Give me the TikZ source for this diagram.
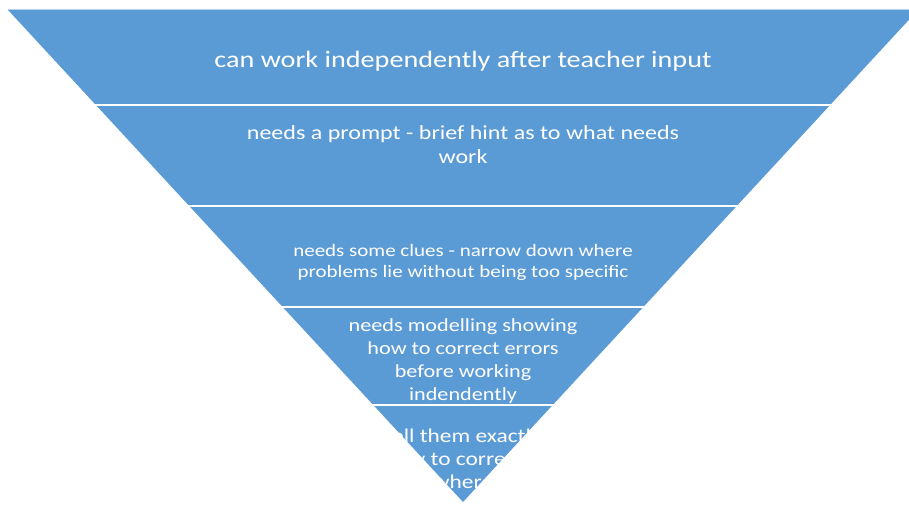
\documentclass[tikz,border=0pt]{standalone}
\usepackage{fontspec}
\setmainfont{Carlito}[FakeStretch=1.2]
\definecolor{pyblue}{HTML}{5B9BD5}
\begin{document}
\begin{tikzpicture}[x=1pt,y=-1pt,
  bandtext/.style={text=white,align=center,inner sep=0pt},
  divider/.style={white,line width=2.4pt}]
\useasboundingbox (0,0) rectangle (909,504);
% triangle
\coordinate (tl) at (8,10);
\coordinate (tr) at (918,10);
\coordinate (ap) at (463,502);
\fill[pyblue] (tl) -- (tr) -- (ap) -- cycle;
\draw[pyblue!45,line width=0.8pt] (8,9) -- (909,9);
% dividers
\foreach \yy in {105,206,307,405}{
  \draw[divider] (0,\yy) -- (909,\yy);
}
\begin{scope}
\clip (tl) -- (tr) -- (ap) -- cycle;
\node[bandtext,font=\fontsize{23.5}{28}\selectfont] (t1) at (463,61) {can work independently after teacher input};
\node[bandtext,font=\fontsize{20}{24}\selectfont] (t2) at (463,145) {needs a prompt - brief hint as to what needs\\work};
\node[bandtext,font=\fontsize{17.5}{21}\selectfont] (t3) at (463,262) {needs some clues - narrow down where\\problems lie without being too specific};
\node[bandtext,font=\fontsize{18.5}{23}\selectfont] (t4) at (463,361) {needs modelling showing\\how to correct errors\\before working\\indendently};
\node[bandtext,font=\fontsize{19.5}{23}\selectfont] (t5) at (463,459) {tell them exactly\\how to correct it\\where};
\end{scope}
\end{tikzpicture}
\end{document}
